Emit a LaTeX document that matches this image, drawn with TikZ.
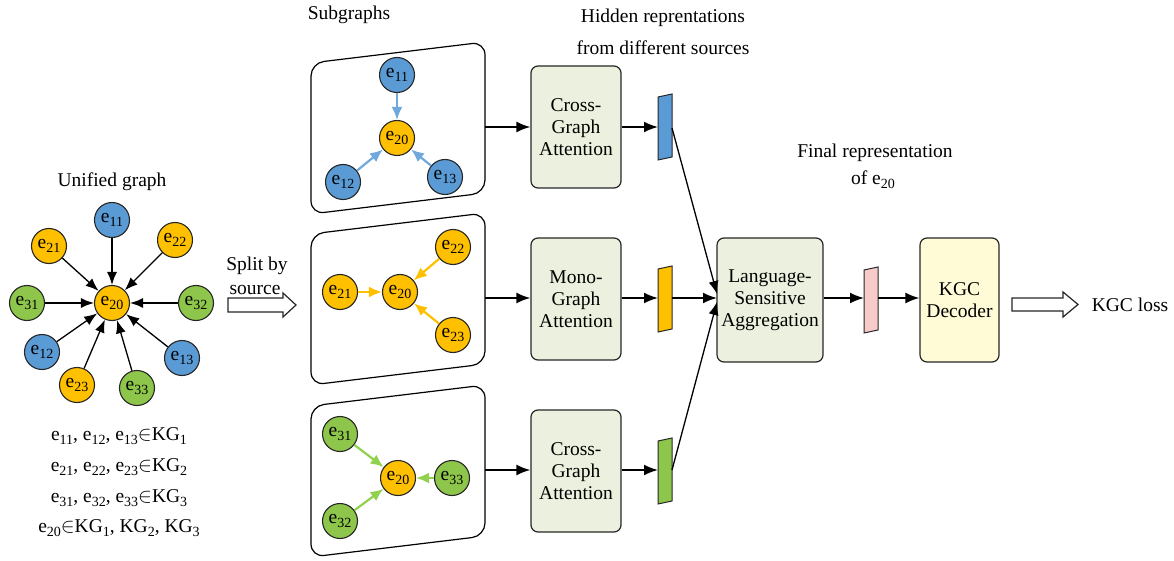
\documentclass[tikz,border=0pt]{standalone}
\usepackage{fontspec}
\setmainfont{Liberation Serif}
\usetikzlibrary{arrows.meta}
\definecolor{cblue}{RGB}{91,155,213}
\definecolor{cyellow}{RGB}{255,192,0}
\definecolor{cgreen}{RGB}{141,198,74}
\definecolor{lblue}{RGB}{111,168,220}
\definecolor{lgreen}{RGB}{146,208,80}
\definecolor{boxgreen}{RGB}{235,241,222}
\definecolor{boxyellow}{RGB}{255,251,214}
\definecolor{cpink}{RGB}{248,203,203}
\newcommand\sbs[1]{\raisebox{-0.45ex}{\fontsize{14}{14}\selectfont #1}}
\newcommand\bigfont{\fontsize{19.5}{22}\selectfont}
\tikzset{
  ent/.style={circle, draw=black!85, line width=1.1pt, minimum size=35pt, inner sep=0pt, font=\bigfont},
  eb/.style={ent, fill=cblue},
  ey/.style={ent, fill=cyellow},
  eg/.style={ent, fill=cgreen},
  arr/.style={line width=1.3pt, -{Latex[length=13pt,width=10pt]}},
  barr/.style={line width=1.8pt, draw=black, -{Latex[length=14pt,width=11pt]}},
  carr/.style={line width=2.2pt, -{Latex[length=13pt,width=11pt]}},
  lbl/.style={font=\bigfont, align=center, inner sep=0pt},
  modbox/.style={draw=black!85, line width=1.2pt, rounded corners=7pt, fill=boxgreen,
    minimum width=90pt, minimum height=122pt, font=\bigfont, align=center},
  subbox/.style={draw=black, line width=1.2pt, rounded corners=13pt},
  rep/.style={draw=black!85, line width=1pt},
  openarr/.style={draw=black!85, line width=1.2pt, fill=white}
}
\begin{document}
\begin{tikzpicture}[x=1pt,y=-1pt]
\useasboundingbox (0,0) rectangle (1174,561);

% ---------- Unified graph ----------
\node[lbl] (tUni) at (112,182) {Unified graph};
\node[ey] (u20) at (112,303) {e\sbs{20}};
\node[eb] (u11) at (112,220) {e\sbs{11}};
\node[ey] (u21) at (49,246) {e\sbs{21}};
\node[ey] (u22) at (175,240) {e\sbs{22}};
\node[eg] (u31) at (27,303) {e\sbs{31}};
\node[eg] (u32) at (196,303) {e\sbs{32}};
\node[eb] (u12) at (42,352) {e\sbs{12}};
\node[eb] (u13) at (182,358) {e\sbs{13}};
\node[ey] (u23) at (77,385) {e\sbs{23}};
\node[eg] (u33) at (137,388) {e\sbs{33}};
\foreach \n in {u11,u21,u22,u31,u32,u12,u13,u23,u33}
  \draw[arr] (\n) -- (u20);

\node[lbl] (l1) at (119,436) {e\sbs{11}, e\sbs{12}, e\sbs{13}$\in$KG\sbs{1}};
\node[lbl] (l2) at (119,467) {e\sbs{21}, e\sbs{22}, e\sbs{23}$\in$KG\sbs{2}};
\node[lbl] (l3) at (119,498) {e\sbs{31}, e\sbs{32}, e\sbs{33}$\in$KG\sbs{3}};
\node[lbl] (l4) at (119,528) {e\sbs{20}$\in$KG\sbs{1}, KG\sbs{2}, KG\sbs{3}};

% ---------- Split by source ----------
\draw[openarr] (228,298) -- (283,298) -- (283,293) -- (296,305) -- (283,317) -- (283,312) -- (228,312) -- cycle;
\node[lbl] (tSplit1) at (257,266) {Split by};
\node[lbl] (tSplit2) at (255,290) {source};

% ---------- Subgraphs ----------
\node[lbl] (tSub) at (349,15) {Subgraphs};
\draw[subbox] (311,63) -- (485,42) -- (485,193) -- (311,214) -- cycle;
\draw[subbox] (311,234) -- (485,213) -- (485,364) -- (311,385) -- cycle;
\draw[subbox] (311,406) -- (485,385) -- (485,536) -- (311,557) -- cycle;
\coordinate (s1) at (485,127);
\coordinate (s2) at (485,298);
\coordinate (s3) at (485,470);

% subgraph 1
\node[ey] (a20) at (397,138) {e\sbs{20}};
\node[eb] (a11) at (397,75) {e\sbs{11}};
\node[eb] (a12) at (343,182) {e\sbs{12}};
\node[eb] (a13) at (445,177) {e\sbs{13}};
\foreach \n in {a11,a12,a13} \draw[carr, lblue] (\n) -- (a20);

% subgraph 2
\node[ey] (b20) at (400,292) {e\sbs{20}};
\node[ey] (b21) at (340,292) {e\sbs{21}};
\node[ey] (b22) at (453,247) {e\sbs{22}};
\node[ey] (b23) at (453,335) {e\sbs{23}};
\foreach \n in {b21,b22,b23} \draw[carr, cyellow] (\n) -- (b20);

% subgraph 3
\node[ey] (c20) at (398,478) {e\sbs{20}};
\node[eg] (c31) at (340,434) {e\sbs{31}};
\node[eg] (c32) at (340,521) {e\sbs{32}};
\node[eg] (c33) at (452,478) {e\sbs{33}};
\foreach \n in {c31,c32,c33} \draw[carr, lgreen] (\n) -- (c20);

% ---------- Attention modules ----------
\node[modbox] (m1) at (576,127) {Cross-\\Graph\\Attention};
\node[modbox] (m2) at (576,299) {Mono-\\Graph\\Attention};
\node[modbox] (m3) at (576,471) {Cross-\\Graph\\Attention};
\draw[barr] (s1) -- (m1.west |- s1);
\draw[barr] (s2) -- (m2.west |- s2);
\draw[barr] (s3) -- (m3.west |- s3);

% ---------- Hidden representations ----------
\node[lbl] (tHid1) at (663,18) {Hidden reprentations};
\node[lbl] (tHid2) at (663,48) {from different sources};
\draw[rep, fill=cblue]   (658,97)  -- (672,94)  -- (672,157) -- (658,160) -- cycle;
\draw[rep, fill=cyellow] (658,269) -- (672,266) -- (672,329) -- (658,332) -- cycle;
\draw[rep, fill=cgreen]  (658,441) -- (672,438) -- (672,501) -- (658,504) -- cycle;
\coordinate (h1w) at (658,127);
\coordinate (h2w) at (658,298);
\coordinate (h3w) at (658,470);
\coordinate (h1e) at (672,128);
\coordinate (h2e) at (672,298);
\coordinate (h3e) at (672,470);
\draw[barr] (m1.east |- h1w) -- (h1w);
\draw[barr] (m2.east |- h2w) -- (h2w);
\draw[barr] (m3.east |- h3w) -- (h3w);

% ---------- Aggregation ----------
\node[modbox, minimum width=106pt, minimum height=124pt] (agg) at (770,300) {Language-\\Sensitive\\Aggregation};
\coordinate (g1) at (717,294);
\coordinate (g2) at (717,298);
\coordinate (g3) at (717,302);
\draw[arr] (h1e) -- (g1);
\draw[barr] (h2e) -- (g2);
\draw[arr] (h3e) -- (g3);

% ---------- Final representation ----------
\node[lbl] (tFin1) at (875,153) {Final representation};
\node[lbl] (tFin2) at (873,180) {of e\sbs{20}};
\draw[rep, fill=cpink] (864,270) -- (878,267) -- (878,330) -- (864,333) -- cycle;
\coordinate (pw) at (864,298);
\coordinate (pe) at (878,298);
\draw[barr] (agg.east |- pw) -- (pw);

% ---------- Decoder ----------
\node[modbox, fill=boxyellow, minimum width=79pt, minimum height=124pt] (dec) at (959.5,300) {KGC\\Decoder};
\draw[barr] (pe) -- (dec.west |- pe);

\draw[openarr] (1012,298) -- (1063,298) -- (1063,292) -- (1078,304.5) -- (1063,317) -- (1063,311) -- (1012,311) -- cycle;
\node[lbl] (tLoss) at (1130,305) {KGC loss};
\end{tikzpicture}
\end{document}
